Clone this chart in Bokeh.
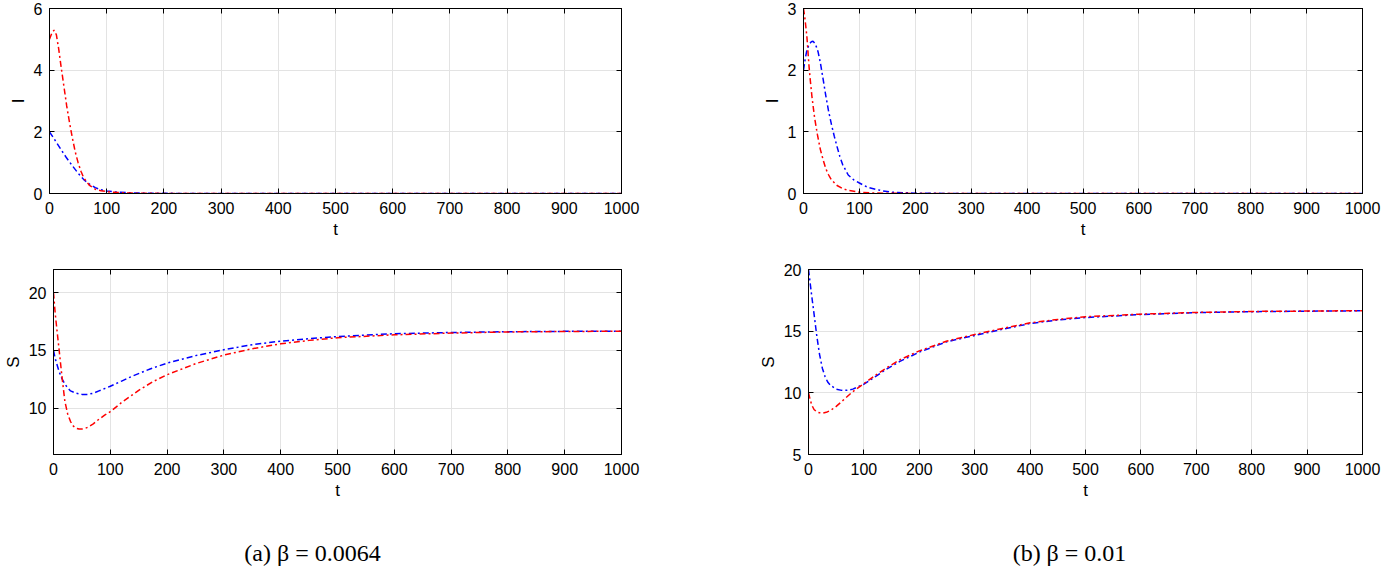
from bokeh.plotting import figure
from bokeh.models import Range1d, FixedTicker, LinearAxis, Label, ColumnDataSource
from bokeh.layouts import column, row
from bokeh.embed import file_html
from bokeh.resources import INLINE

# ---------------- data ----------------
x_ticks = [0, 100, 200, 300, 400, 500, 600, 700, 800, 900, 1000]

# panel (a) beta = 0.0064 : I(t)
a_I_red_t = [0, 4, 8, 12, 16, 20, 25, 30, 35, 40, 45, 50, 55, 60, 70, 80, 90, 100, 120, 150, 200, 300, 500, 1000]
a_I_red = [5.0, 5.2, 5.3, 5.15, 4.7, 4.15, 3.5, 2.85, 2.3, 1.8, 1.35, 1.0, 0.72, 0.5, 0.26, 0.14, 0.09, 0.06, 0.03, 0.01, 0.003, 0, 0, 0]
a_I_blue_t = [0, 10, 20, 30, 40, 50, 60, 70, 80, 90, 100, 120, 150, 200, 300, 500, 1000]
a_I_blue = [2.0, 1.72, 1.43, 1.15, 0.9, 0.66, 0.45, 0.3, 0.19, 0.12, 0.08, 0.04, 0.015, 0.005, 0, 0, 0]

# panel (a) : S(t)
a_S_red_t = [0, 3, 6, 10, 15, 20, 25, 30, 35, 40, 45, 50, 55, 60, 70, 80, 90, 100, 120, 150, 175, 200, 250,
             300, 350, 400, 450, 500, 600, 700, 800, 900, 1000]
a_S_red = [20, 18.2, 16.8, 15.0, 12.7, 10.6, 9.5, 8.85, 8.45, 8.27, 8.2, 8.2, 8.25, 8.35, 8.65, 9.05, 9.4, 9.7,
           10.5, 11.55, 12.3, 12.9, 13.85, 14.6, 15.15, 15.57, 15.87, 16.1, 16.35, 16.5, 16.6, 16.64, 16.66]
a_S_blue_t = [0, 3, 6, 10, 15, 20, 25, 30, 40, 50, 60, 70, 80, 90, 100, 120, 140, 170, 200, 250, 300, 350, 400,
              450, 500, 600, 700, 800, 900, 1000]
a_S_blue = [15, 14.3, 13.8, 13.15, 12.55, 12.1, 11.75, 11.5, 11.3, 11.2, 11.2, 11.3, 11.5, 11.7, 11.9, 12.35, 12.8,
            13.4, 13.9, 14.55, 15.06, 15.5, 15.8, 16.02, 16.2, 16.45, 16.55, 16.62, 16.65, 16.66]

# panel (b) beta = 0.01 : I(t)
b_I_red_t = [0, 2, 4, 6, 8, 10, 12, 15, 18, 20, 25, 30, 35, 40, 45, 50, 60, 70, 80, 100, 130, 200, 300, 1000]
b_I_red = [3.0, 2.88, 2.72, 2.55, 2.3, 2.05, 1.85, 1.58, 1.36, 1.22, 0.95, 0.72, 0.55, 0.4, 0.3, 0.22, 0.13, 0.08,
           0.05, 0.02, 0.007, 0.001, 0, 0]
b_I_blue_t = [0, 3, 6, 10, 14, 17, 20, 23, 26, 30, 35, 40, 45, 50, 55, 60, 65, 70, 80, 90, 100, 115, 140, 160, 200,
              250, 300, 1000]
b_I_blue = [2.0, 2.18, 2.32, 2.42, 2.46, 2.47, 2.44, 2.38, 2.3, 2.13, 1.86, 1.58, 1.33, 1.12, 0.93, 0.76, 0.6, 0.47,
            0.3, 0.22, 0.17, 0.1, 0.045, 0.02, 0.006, 0.002, 0, 0]

# panel (b) : S(t)
b_S_red_t = [0, 3, 6, 10, 15, 20, 26, 32, 40, 50, 60, 70, 80, 90, 100, 120, 140, 165, 200, 250, 300, 350, 400, 450,
             500, 600, 700, 800, 900, 1000]
b_S_red = [10, 9.45, 9.0, 8.65, 8.45, 8.38, 8.36, 8.42, 8.58, 8.9, 9.3, 9.7, 10.1, 10.42, 10.74, 11.4, 12.0, 12.68,
           13.4, 14.2, 14.73, 15.22, 15.68, 15.95, 16.17, 16.38, 16.52, 16.6, 16.63, 16.66]
b_S_blue_t = [0, 3, 6, 10, 15, 20, 25, 30, 35, 40, 50, 60, 70, 80, 90, 100, 120, 140, 165, 200, 250, 300, 350, 400,
              450, 500, 600, 700, 800, 900, 1000]
b_S_blue = [20, 18.9, 17.8, 16.4, 14.6, 13.1, 12.0, 11.3, 10.85, 10.6, 10.3, 10.2, 10.2, 10.3, 10.5, 10.7, 11.3, 11.9,
            12.55, 13.3, 14.15, 14.65, 15.15, 15.62, 15.9, 16.1, 16.35, 16.5, 16.58, 16.62, 16.65]

a_I_ticks = [0, 2, 4, 6]
a_S_ticks = [10, 15, 20]
b_I_ticks = [0, 1, 2, 3]
b_S_ticks = [5, 10, 15, 20]

captions = ["(a) \u03b2 = 0.0064", "(b) \u03b2 = 0.01"]

# ---------------- styling / layout ----------------
TICK_FONT = "Liberation Sans"
CAP_FONT = "Liberation Serif"
GRID = "#e3e3e3"
DASH = "6 3 2 3"


def style_axis(ax, labels=True, standoff=8):
    ax.axis_line_color = "black"
    ax.axis_line_width = 1
    ax.major_tick_in = 5
    ax.major_tick_out = 0
    ax.minor_tick_in = 0
    ax.minor_tick_out = 0
    ax.major_tick_line_color = "black"
    if labels:
        ax.major_label_text_font = TICK_FONT
        ax.major_label_text_font_size = "16px"
        ax.major_label_text_color = "black"
        ax.major_label_standoff = standoff
        ax.axis_label_text_font = TICK_FONT
        ax.axis_label_text_font_size = "17px"
        ax.axis_label_text_font_style = "normal"
        ax.axis_label_text_color = "black"
        ax.axis_label_standoff = 3


def panel(yr, yticks, ylabel, series, width, height, lb, rb, tb, bb):
    p = figure(width=width, height=height, x_range=Range1d(0, 1000), y_range=Range1d(*yr),
               output_backend="svg", toolbar_location=None, title=None,
               min_border_left=lb, min_border_right=rb, min_border_top=tb, min_border_bottom=bb)
    p.background_fill_color = "white"
    p.border_fill_color = "white"
    p.outline_line_color = "black"
    p.outline_line_width = 1
    xt = FixedTicker(ticks=x_ticks)
    yt = FixedTicker(ticks=yticks)
    p.xaxis.ticker = xt
    p.yaxis.ticker = yt
    p.xaxis.axis_label = "t"
    p.yaxis.axis_label = ylabel
    style_axis(p.xaxis[0], standoff=8)
    style_axis(p.yaxis[0], standoff=7)
    p.xgrid.ticker = xt
    p.ygrid.ticker = yt
    p.grid.grid_line_color = GRID
    p.grid.grid_line_width = 1

    top = LinearAxis(ticker=FixedTicker(ticks=x_ticks),
                     major_label_overrides={v: "" for v in x_ticks},
                     major_label_text_font_size="1px", major_label_standoff=0)
    right = LinearAxis(ticker=FixedTicker(ticks=yticks),
                       major_label_overrides={v: "" for v in yticks},
                       major_label_text_font_size="1px", major_label_standoff=0)
    style_axis(top, labels=False)
    style_axis(right, labels=False)
    p.add_layout(top, "above")
    p.add_layout(right, "right")

    for t, v, c in series:
        src = ColumnDataSource(data=dict(t=t, v=v))
        p.line("t", "v", source=src, line_color=c, line_width=1.5, line_dash=DASH)
    return p


W_LEFT = 755
W_RIGHT = 626
LB_L = 49
LB_R = 48
RB_L = W_LEFT - 621
RB_R = 19
H_TOP = 259
H_BOT = 251
H_CAP = 58

tl = panel((0, 6), a_I_ticks, "I",
           [(a_I_blue_t, a_I_blue, "#0000ff"), (a_I_red_t, a_I_red, "#ff0000")],
           W_LEFT, H_TOP, LB_L, RB_L, 8, 66)
tr = panel((0, 3), b_I_ticks, "I",
           [(b_I_blue_t, b_I_blue, "#0000ff"), (b_I_red_t, b_I_red, "#ff0000")],
           W_RIGHT, H_TOP, LB_R, RB_R, 8, 66)
bl = panel((6, 22), a_S_ticks, "S",
           [(a_S_blue_t, a_S_blue, "#0000ff"), (a_S_red_t, a_S_red, "#ff0000")],
           W_LEFT, H_BOT, LB_L, RB_L, 10, 56)
br = panel((5, 20), b_S_ticks, "S",
           [(b_S_blue_t, b_S_blue, "#0000ff"), (b_S_red_t, b_S_red, "#ff0000")],
           W_RIGHT, H_BOT, LB_R, RB_R, 10, 56)

cap = figure(width=W_LEFT + W_RIGHT, height=H_CAP, x_range=Range1d(0, W_LEFT + W_RIGHT),
             y_range=Range1d(0, H_CAP), output_backend="svg", toolbar_location=None, title=None,
             x_axis_type=None, y_axis_type=None, min_border=0)
cap.outline_line_color = None
cap.grid.visible = False
for txt, cx in zip(captions, [312, 1069]):
    cap.add_layout(Label(x=cx, y=16, text=txt, text_font=CAP_FONT, text_font_size="24px",
                         text_align="center", text_baseline="alphabetic", text_color="black"))

layout = column(row(tl, tr), row(bl, br), cap)

open("out.html", "w").write(file_html(layout, INLINE))
